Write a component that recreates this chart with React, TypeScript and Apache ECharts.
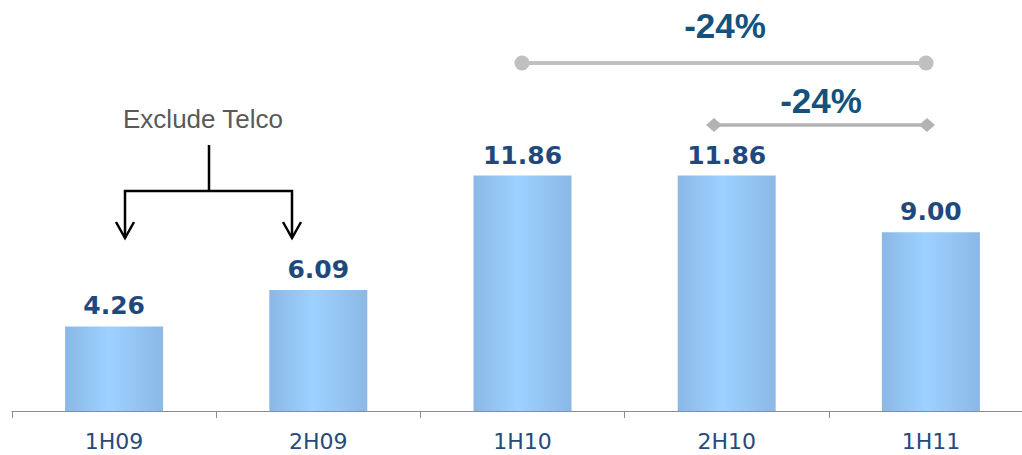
import React, { useEffect, useRef } from "react";
import * as echarts from "echarts";

const categories = ["1H09", "2H09", "1H10", "2H10", "1H11"];
const values = [4.26, 6.09, 11.86, 11.86, 9.0];
const changeLabels = ["-24%", "-24%"];
const noteText = "Exclude Telco";

export default function App() {
  const ref = useRef<HTMLDivElement>(null);
  useEffect(() => {
    if (!ref.current) return;
    const chart = echarts.init(ref.current, null, { renderer: "svg" });
    const grey1 = "#c0c0c0";
    const grey2 = "#b3b3b3";
    const dark = "#12527d";
    chart.setOption({
      animation: false,
      grid: { left: 12, top: 14, right: 7, height: 397, containLabel: false },
      xAxis: {
        type: "category",
        data: categories,
        axisLine: { lineStyle: { color: "#8c8c8c", width: 1 } },
        axisTick: { show: true, length: 7, lineStyle: { color: "#8c8c8c" } },
        axisLabel: {
          margin: 19,
          color: "#254a7c",
          fontFamily: "DejaVu Sans",
          fontSize: 22,
        },
      },
      yAxis: { type: "value", min: 0, max: 20, show: false, splitLine: { show: false } },
      series: [
        {
          type: "bar",
          data: values,
          barWidth: 98,
          itemStyle: {
            color: new echarts.graphic.LinearGradient(0, 0, 1, 0, [
              { offset: 0, color: "#8ab8e6" },
              { offset: 0.45, color: "#9dd1ff" },
              { offset: 1, color: "#8bb8e6" },
            ]),
          },
          label: {
            show: true,
            position: "top",
            distance: 8,
            formatter: (p: any) => p.value.toFixed(2),
            color: "#1f497d",
            fontFamily: "DejaVu Sans",
            fontWeight: "bold",
            fontSize: 25,
          },
        },
      ],
      graphic: [
        { type: "line", shape: { x1: 522, y1: 63, x2: 926, y2: 63 }, style: { stroke: grey1, lineWidth: 4 } },
        { type: "circle", shape: { cx: 522, cy: 63, r: 7.5 }, style: { fill: grey1 } },
        { type: "circle", shape: { cx: 926, cy: 63, r: 7.5 }, style: { fill: grey1 } },
        {
          type: "text",
          x: 725,
          y: 25,
          style: {
            text: changeLabels[0],
            align: "center",
            verticalAlign: "middle",
            fill: dark,
            font: "bold 35px 'Liberation Sans', Arial, sans-serif",
          },
        },
        { type: "line", shape: { x1: 714, y1: 125, x2: 927, y2: 125 }, style: { stroke: grey2, lineWidth: 3.5 } },
        { type: "polygon", shape: { points: [[706, 125], [714, 118], [722, 125], [714, 132]] }, style: { fill: grey2 } },
        { type: "polygon", shape: { points: [[919, 125], [927, 118], [935, 125], [927, 132]] }, style: { fill: grey2 } },
        {
          type: "text",
          x: 821,
          y: 100,
          style: {
            text: changeLabels[1],
            align: "center",
            verticalAlign: "middle",
            fill: dark,
            font: "bold 35px 'Liberation Sans', Arial, sans-serif",
          },
        },
        {
          type: "text",
          x: 203,
          y: 119,
          style: {
            text: noteText,
            align: "center",
            verticalAlign: "middle",
            fill: "#595959",
            font: "26px 'Liberation Sans', Arial, sans-serif",
          },
        },
        { type: "line", shape: { x1: 209, y1: 145, x2: 209, y2: 191 }, style: { stroke: "#000", lineWidth: 2.5 } },
        { type: "polyline", shape: { points: [[125, 238], [125, 191], [292, 191], [292, 238]] }, style: { stroke: "#000", lineWidth: 2.5, fill: null } },
        { type: "polyline", shape: { points: [[116, 222], [125, 238], [134, 222]] }, style: { stroke: "#000", lineWidth: 2.5, fill: null } },
        { type: "polyline", shape: { points: [[283, 222], [292, 238], [301, 222]] }, style: { stroke: "#000", lineWidth: 2.5, fill: null } },
      ],
    });
    return () => chart.dispose();
  }, []);
  return (
    <div style={{ position: "fixed", left: 0, top: 0, width: 1022, height: 455, overflow: "hidden", background: "#fff" }}>
      <div ref={ref} style={{ width: 1040, height: 455 }} />
    </div>
  );
}
